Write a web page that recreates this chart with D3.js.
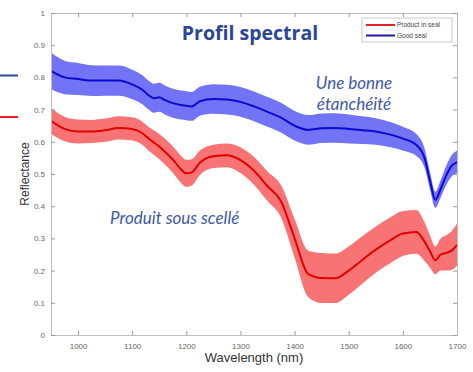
<!DOCTYPE html>
<html>
<head>
<meta charset="utf-8">
<script src="https://cdn.jsdelivr.net/npm/d3@7"></script>
<style>
  body { margin: 0; background: #fff; }
  svg { display: block; }
</style>
</head>
<body>
<div id="chart"></div>
<script>
// wavelengths shared by both series (nm)
const wavelengths = [950, 975, 1000, 1025, 1050, 1075, 1100, 1120, 1130, 1140, 1150, 1160, 1175,
  1190, 1200, 1210, 1225, 1250, 1275, 1300, 1325, 1350, 1375, 1400, 1425, 1450, 1475, 1500, 1525, 1550,
  1575, 1600, 1625, 1640, 1650, 1660, 1670, 1680, 1690, 1700];

// good seal: mean and spread
const goodMean = [0.82, 0.80, 0.795, 0.79, 0.79, 0.79, 0.778, 0.76, 0.745, 0.735, 0.738, 0.73, 0.72,
  0.714, 0.712, 0.71, 0.726, 0.733, 0.731, 0.724, 0.71, 0.693, 0.675, 0.65, 0.637, 0.642, 0.643, 0.64,
  0.636, 0.632, 0.623, 0.61, 0.59, 0.55, 0.48, 0.42, 0.455, 0.495, 0.525, 0.537];
const goodStd = [0.057, 0.052, 0.05, 0.048, 0.047, 0.047, 0.046, 0.045, 0.045, 0.045, 0.045, 0.045, 0.045,
  0.045, 0.045, 0.045, 0.045, 0.046, 0.046, 0.046, 0.046, 0.046, 0.046, 0.046, 0.046, 0.046, 0.046, 0.045,
  0.043, 0.041, 0.039, 0.037, 0.034, 0.03, 0.027, 0.025, 0.027, 0.03, 0.033, 0.035];

// product in seal: mean and spread
const prodMean = [0.665, 0.64, 0.632, 0.632, 0.636, 0.643, 0.64, 0.625, 0.61, 0.598, 0.585, 0.57, 0.545,
  0.515, 0.502, 0.505, 0.535, 0.555, 0.558, 0.543, 0.51, 0.462, 0.415, 0.30, 0.19, 0.177, 0.176, 0.2,
  0.233, 0.265, 0.292, 0.315, 0.32, 0.29, 0.26, 0.232, 0.25, 0.255, 0.262, 0.28];
const prodStd = [0.04, 0.038, 0.037, 0.036, 0.036, 0.036, 0.036, 0.036, 0.037, 0.038, 0.039, 0.04, 0.041,
  0.042, 0.042, 0.041, 0.038, 0.036, 0.037, 0.04, 0.043, 0.046, 0.05, 0.06, 0.072, 0.078, 0.077, 0.075,
  0.074, 0.072, 0.071, 0.07, 0.068, 0.06, 0.05, 0.043, 0.05, 0.055, 0.06, 0.066];

const xTicks = [1000, 1100, 1200, 1300, 1400, 1500, 1600, 1700];
const yTicks = [0, 0.1, 0.2, 0.3, 0.4, 0.5, 0.6, 0.7, 0.8, 0.9, 1];

const width = 473, height = 372;
const plot = {left: 51, right: 457, top: 13, bottom: 335};

const svg = d3.select('#chart').append('svg')
  .attr('width', width).attr('height', height)
  .style('font-family', '"Liberation Sans", Arial, sans-serif');

const x = d3.scaleLinear().domain([950, 1700]).range([plot.left, plot.right]);
const y = d3.scaleLinear().domain([0, 1]).range([plot.bottom, plot.top]);

const rows = (mean, std) => wavelengths.map((w, i) => ({w, m: mean[i], s: std[i]}));

svg.append('clipPath').attr('id', 'clip')
  .append('rect')
  .attr('x', plot.left).attr('y', plot.top)
  .attr('width', plot.right - plot.left).attr('height', plot.bottom - plot.top);

const g = svg.append('g').attr('clip-path', 'url(#clip)');

const band = d3.area().curve(d3.curveMonotoneX)
  .x((d) => x(d.w)).y0((d) => y(d.m - d.s)).y1((d) => y(d.m + d.s));
const line = d3.line().curve(d3.curveMonotoneX)
  .x((d) => x(d.w)).y((d) => y(d.m));

const series = [
  {data: rows(goodMean, goodStd), fill: '#7373f6', stroke: '#0a0ad0'},
  {data: rows(prodMean, prodStd), fill: '#f87474', stroke: '#e00000'},
];

series.forEach((s) => {
  g.append('path').attr('d', band(s.data)).attr('fill', s.fill);
  g.append('path').attr('d', line(s.data))
    .attr('fill', 'none').attr('stroke', s.stroke).attr('stroke-width', 2);
});

// axes (box with inward ticks, matlab style)
const axisColor = '#bdbdbd';
const tickLen = 4;

const bottomAxis = svg.append('g')
  .attr('transform', `translate(0,${plot.bottom})`)
  .call(d3.axisBottom(x).tickValues(xTicks).tickSize(-tickLen).tickPadding(8).tickFormat(d3.format('d')));
const topAxis = svg.append('g')
  .attr('transform', `translate(0,${plot.top})`)
  .call(d3.axisTop(x).tickValues(xTicks).tickSize(-tickLen).tickFormat(''));
const leftAxis = svg.append('g')
  .attr('transform', `translate(${plot.left},0)`)
  .call(d3.axisLeft(y).tickValues(yTicks).tickSize(-tickLen).tickPadding(6).tickFormat(d3.format('~g')));
const rightAxis = svg.append('g')
  .attr('transform', `translate(${plot.right},0)`)
  .call(d3.axisRight(y).tickValues(yTicks).tickSize(-tickLen).tickFormat(''));

[bottomAxis, topAxis, leftAxis, rightAxis].forEach((a) => {
  a.select('.domain').attr('stroke', axisColor);
  a.selectAll('.tick line').attr('stroke', '#9a9a9a');
  a.selectAll('.tick text').attr('fill', '#666').style('font-size', '8px');
});

// axis titles
svg.append('text')
  .attr('x', (plot.left + plot.right) / 2).attr('y', 362)
  .attr('text-anchor', 'middle')
  .attr('fill', '#333').style('font-size', '13px')
  .text('Wavelength (nm)');

svg.append('text')
  .attr('transform', `translate(29,${(plot.top + plot.bottom) / 2}) rotate(-90)`)
  .attr('text-anchor', 'middle')
  .attr('fill', '#333').style('font-size', '12px')
  .text('Reflectance');

// title
svg.append('text')
  .attr('x', 250).attr('y', 40)
  .attr('text-anchor', 'middle')
  .attr('fill', '#2b4598')
  .style('font-family', '"Open Sans", sans-serif')
  .style('font-weight', 700).style('font-size', '19.5px')
  .text('Profil spectral');

// legend
const legend = svg.append('g');
legend.append('rect')
  .attr('x', 362).attr('y', 18).attr('width', 90).attr('height', 24)
  .attr('fill', '#fff').attr('stroke', '#bbb').attr('stroke-width', 0.8);
[{label: 'Product in seal', color: '#e82020', ly: 25}, {label: 'Good seal', color: '#1a1aa8', ly: 35.5}]
  .forEach((d) => {
    legend.append('line')
      .attr('x1', 366).attr('x2', 395).attr('y1', d.ly).attr('y2', d.ly)
      .attr('stroke', d.color).attr('stroke-width', 2);
    legend.append('text')
      .attr('x', 397).attr('y', d.ly + 2.3)
      .attr('fill', '#444').style('font-size', '6.5px')
      .text(d.label);
  });

// annotations
const note = (txt, xx, yy, anchor) => svg.append('text')
  .attr('x', xx).attr('y', yy).attr('text-anchor', anchor)
  .attr('fill', '#3d58a8')
  .style('font-family', 'Lato, sans-serif')
  .style('font-style', 'italic').style('font-size', '17px')
  .text(txt);

note('Une bonne', 354, 89, 'middle');
note('étanchéité', 354, 110, 'middle');
note('Produit sous scellé', 110, 224, 'start');

// side markers on the left edge
svg.append('line').attr('x1', 0).attr('x2', 18).attr('y1', 75.5).attr('y2', 75.5)
  .attr('stroke', '#2a4a9e').attr('stroke-width', 2);
svg.append('line').attr('x1', 0).attr('x2', 18).attr('y1', 117).attr('y2', 117)
  .attr('stroke', '#ec2027').attr('stroke-width', 2);
</script>
</body>
</html>
